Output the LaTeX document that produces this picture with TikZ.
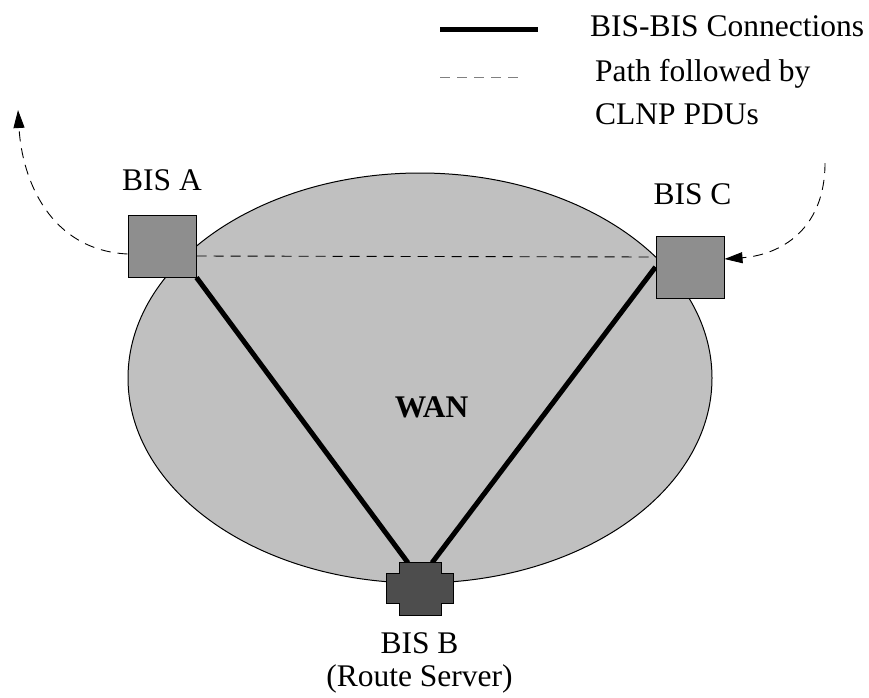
\documentclass[tikz,border=0pt]{standalone}
\usepackage{fontspec}
\setmainfont{Liberation Serif}
\usetikzlibrary{arrows.meta,calc}
\definecolor{wanfill}{RGB}{192,192,192}
\definecolor{bisfill}{RGB}{142,142,142}
\definecolor{rsfill}{RGB}{77,77,77}
\tikzset{
  lbl/.style={inner sep=0pt, anchor=base, font=\fontsize{31.5}{38}\selectfont},
  lgd/.style={inner sep=0pt, anchor=base west, font=\fontsize{31.5}{38}\selectfont},
  bisbox/.style={draw=black, line width=1pt, fill=bisfill, minimum width=68pt, minimum height=62pt, inner sep=0pt},
  conn/.style={line width=5pt, black},
  pdu/.style={line width=0.9pt, dash pattern=on 10pt off 7pt},
  pduarrow/.style={pdu, -{Triangle[length=18pt,width=11pt]}},
}
\begin{document}
\begin{tikzpicture}[x=1pt,y=-1pt]
\useasboundingbox (0,0) rectangle (869,697);
% WAN cloud
\draw[fill=wanfill, line width=1pt] (420,378) ellipse [x radius=292pt, y radius=205pt];
\node[lbl, font=\fontsize{31.5}{38}\selectfont\bfseries] (wan) at (431.5,417) {WAN};
% nodes
\node[bisbox] (A) at (162,246) {};
\node[bisbox] (C) at (690,267) {};
\node[inner sep=0pt, minimum width=67pt, minimum height=52pt] (B) at (420,589) {};
% PDU path across the WAN
\draw[pdu] ($(A.east)+(0,10)$) -- ($(C.west)+(0,-10)$);
% BIS-BIS connections
\draw[conn] (A.south east) -- ($(B.north)+(-12,0)$);
\draw[conn] (C.west) -- ($(B.north)+(12,0)$);
% redraw boxes on top
\node[bisbox] at (A) {};
\node[bisbox] at (C) {};
\draw[fill=rsfill, line width=1pt]
  ($(B.north)+(-21,0)$) -- ($(B.north)+(21,0)$) -- ($(B.north)+(21,11)$) -- ($(B.north east)+(0,11)$)
  -- ($(B.south east)+(0,-12)$) -- ($(B.south)+(21,-12)$) -- ($(B.south)+(21,0)$) -- ($(B.south)+(-21,0)$)
  -- ($(B.south)+(-21,-12)$) -- ($(B.south west)+(0,-12)$) -- ($(B.north west)+(0,11)$) -- ($(B.north)+(-21,11)$) -- cycle;
% incoming / outgoing PDU paths
\coordinate (inC) at (825,163);
\coordinate (outA) at (18,110);
\draw[pduarrow] ($(A.west)+(0,8)$) .. controls (50,250) and (22,180) .. (outA);
\draw[pduarrow] (inC) .. controls (825,230) and (780,255) .. ($(C.east)+(0,-8)$);
% labels
\node[lbl] (la) at (162,190) {BIS A};
\node[lbl] (lc) at (692.5,204) {BIS C};
\node[lbl] (lb) at (419.5,653) {BIS B};
\node[lbl] (lb2) at (419.5,686) {(Route Server)};
% legend
\coordinate (l1a) at (440,29);
\coordinate (l1b) at (538,29);
\draw[conn] (l1a) -- (l1b);
\coordinate (l2a) at (440,77);
\coordinate (l2b) at (525,77);
\draw[pdu, gray] (l2a) -- (l2b);
\node[lgd] (t1) at (590,36) {BIS-BIS Connections};
\node[lgd] (t2) at (595,81) {Path followed by};
\node[lgd] (t3) at (595,124) {CLNP PDUs};
\end{tikzpicture}
\end{document}
